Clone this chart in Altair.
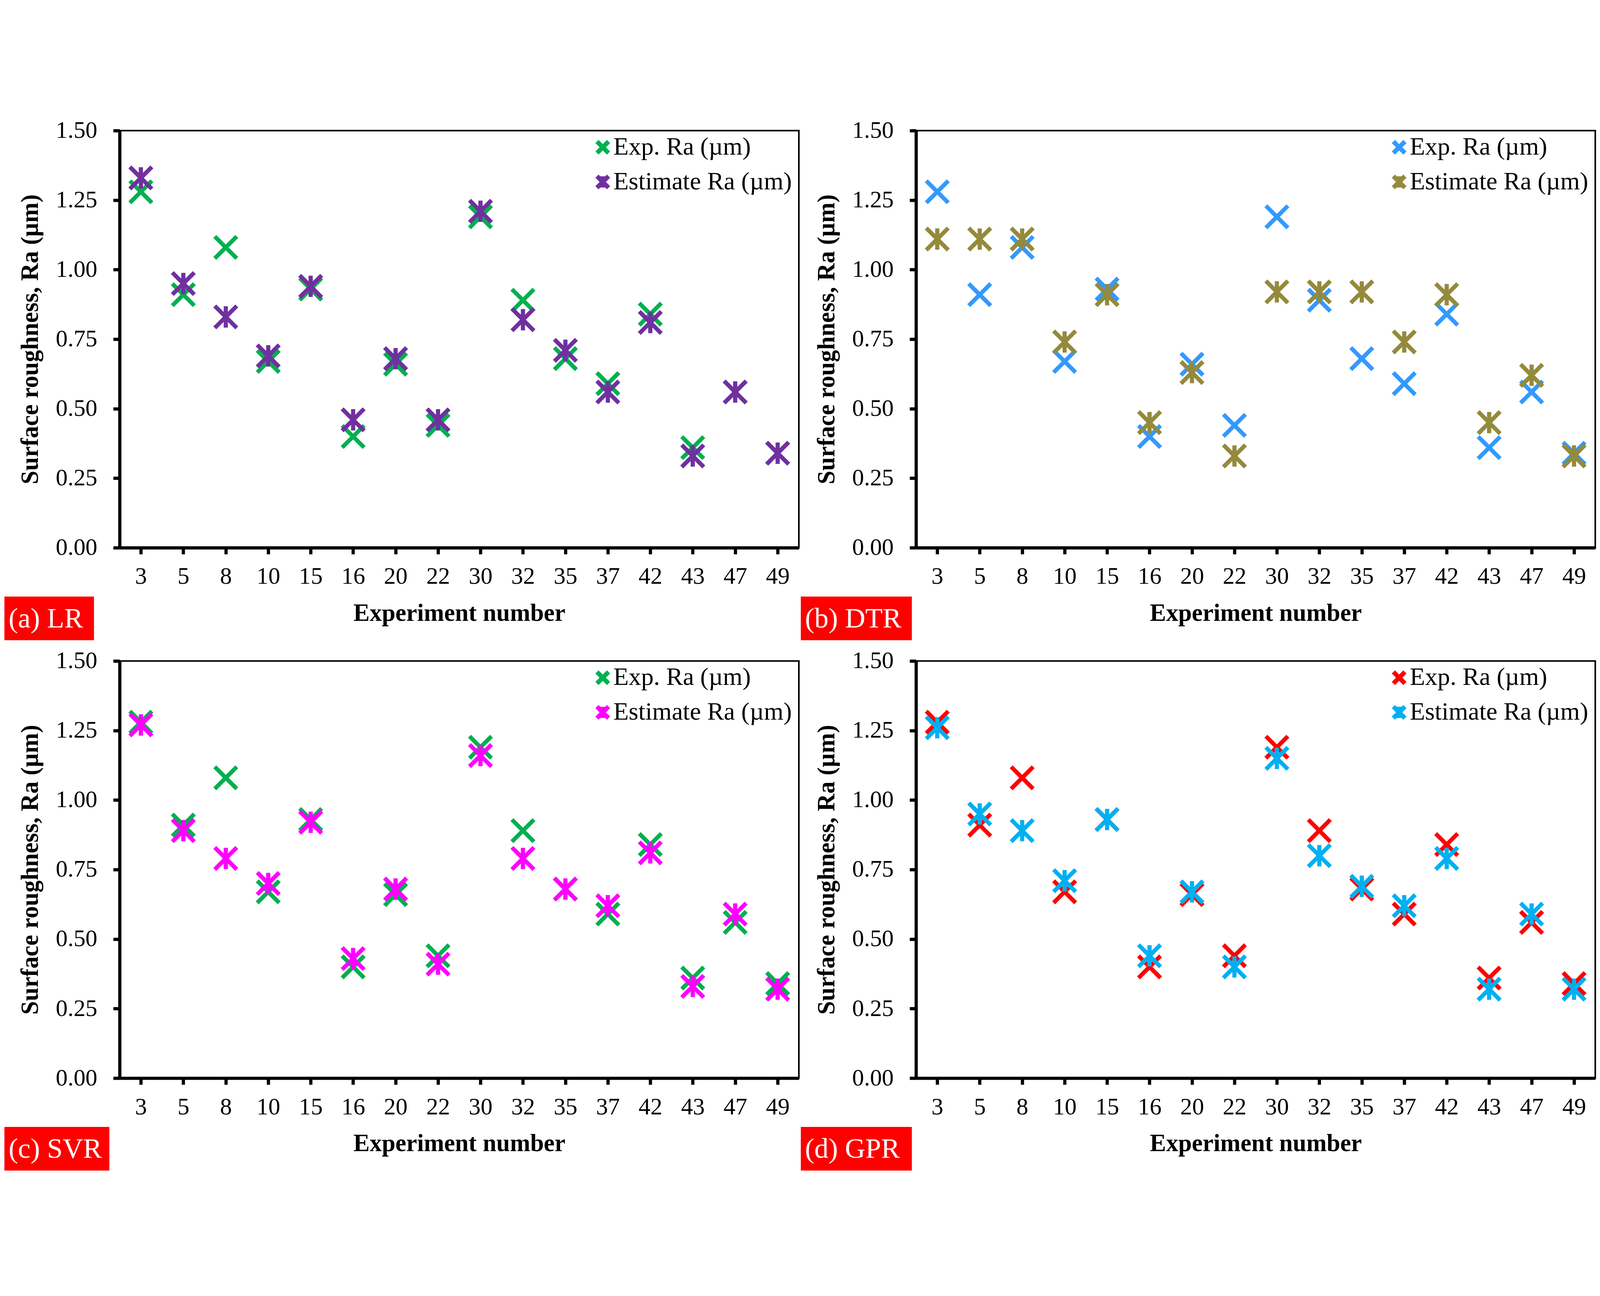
import altair as alt
import pandas as pd

experiments = ["3", "5", "8", "10", "15", "16", "20", "22", "30", "32", "35", "37", "42", "43", "47", "49"]
exp_ra = [1.28, 0.91, 1.08, 0.67, 0.93, 0.40, 0.66, 0.44, 1.19, 0.89, 0.68, 0.59, 0.84, 0.36, 0.56, 0.34]
lr_est = [1.33, 0.95, 0.83, 0.69, 0.94, 0.46, 0.68, 0.46, 1.21, 0.82, 0.71, 0.56, 0.81, 0.33, 0.56, 0.34]
dtr_est = [1.11, 1.11, 1.11, 0.74, 0.91, 0.45, 0.63, 0.33, 0.92, 0.92, 0.92, 0.74, 0.91, 0.45, 0.62, 0.33]
svr_est = [1.27, 0.89, 0.79, 0.70, 0.92, 0.43, 0.68, 0.41, 1.16, 0.79, 0.68, 0.62, 0.81, 0.33, 0.59, 0.32]
gpr_est = [1.26, 0.95, 0.89, 0.71, 0.93, 0.44, 0.67, 0.40, 1.15, 0.80, 0.69, 0.62, 0.79, 0.32, 0.59, 0.32]

panel_labels = ["(a) LR", "(b) DTR", "(c) SVR", "(d) GPR"]
exp_colors = ["#00B050", "#3399FF", "#00B050", "#FF0000"]
est_colors = ["#7030A0", "#948A3C", "#FF00FF", "#00B0F0"]
y_ticks = [0, 0.25, 0.5, 0.75, 1.0, 1.25, 1.5]
series_names = ["Exp. Ra (µm)", "Estimate Ra (µm)"]

X_PATH = "M-1,-1L1,1M-1,1L1,-1"
STAR_PATH = "M-1,-1L1,1M-1,1L1,-1M0,-0.97L0,0.97"

FONT = "Liberation Serif"
W, H = 2116, 1300
box_rights = [-80, -13, -32, -13]


def panel(est, i):
    df = pd.DataFrame({
        "Experiment": experiments + experiments,
        "Ra": exp_ra + est,
        "Series": [series_names[0]] * len(experiments) + [series_names[1]] * len(experiments),
    })
    cscale = alt.Scale(domain=series_names, range=[exp_colors[i], est_colors[i]])
    sscale = alt.Scale(domain=series_names, range=[X_PATH, STAR_PATH])
    pts = alt.Chart(df).mark_point(filled=False, strokeWidth=13, size=4700, opacity=1).encode(
        x=alt.X("Experiment:N", sort=experiments, scale=alt.Scale(padding=0.5),
                axis=alt.Axis(title="Experiment number", labelAngle=0, labelPadding=34, titlePadding=40)),
        y=alt.Y("Ra:Q", scale=alt.Scale(domain=[0, 1.5], nice=False, zero=True),
                axis=alt.Axis(title="Surface roughness, Ra (µm)", values=y_ticks, format=".2f",
                              labelPadding=50, titlePadding=40)),
        color=alt.Color("Series:N", scale=cscale, legend=None),
        shape=alt.Shape("Series:N", scale=sscale, legend=None),
    )
    leg_df = pd.DataFrame({"Series": series_names, "idx": [0, 1]})
    leg_base = alt.Chart(leg_df).transform_calculate(ly="52 + 108 * datum.idx")
    leg_sym = leg_base.mark_point(filled=False, strokeWidth=14, size=1300, opacity=1).encode(
        x=alt.value(1505),
        y=alt.Y("ly:Q", scale=None, axis=None),
        color=alt.Color("Series:N", scale=cscale, legend=None),
        shape=alt.Shape("Series:N", scale=sscale, legend=None),
    )
    leg_txt = leg_base.mark_text(align="left", baseline="middle", font=FONT, fontSize=78, color="black").encode(
        x=alt.value(1538),
        y=alt.Y("ly:Q", scale=None, axis=None),
        text="Series:N",
    )
    lab_df = pd.DataFrame({"label": [panel_labels[i]]})
    box = alt.Chart(lab_df).mark_rect(color="#FF0000").encode(
        x=alt.value(-359), x2=alt.value(box_rights[i]), y=alt.value(1452), y2=alt.value(1588)
    )
    txt = alt.Chart(lab_df).mark_text(align="left", baseline="middle", font=FONT, fontSize=88, color="white").encode(
        x=alt.value(-346), y=alt.value(1522), text="label:N"
    )
    return alt.layer(pts, leg_sym, leg_txt, box, txt).properties(width=W, height=H)


panels = [panel(est, i) for i, est in enumerate([lr_est, dtr_est, svr_est, gpr_est])]

res = dict(x="independent", y="independent", color="independent", shape="independent")
chart = alt.concat(
    *panels, columns=2, spacing={"row": 22, "column": 0}, bounds="full"
).resolve_scale(**res).properties(
    padding={"left": 1, "top": 1, "right": 2, "bottom": 0},
    background="white",
).configure_axis(
    domainColor="black", domainWidth=10, tickColor="black", tickWidth=10, tickSize=20,
    labelFont=FONT, labelFontSize=74, labelColor="black",
    titleFont=FONT, titleFontSize=76, titleFontWeight="bold", titleColor="black",
    grid=False,
).configure_view(stroke="black", strokeWidth=5, fill="white")

chart.save("out.html", embed_options={"renderer": "svg", "actions": False})
